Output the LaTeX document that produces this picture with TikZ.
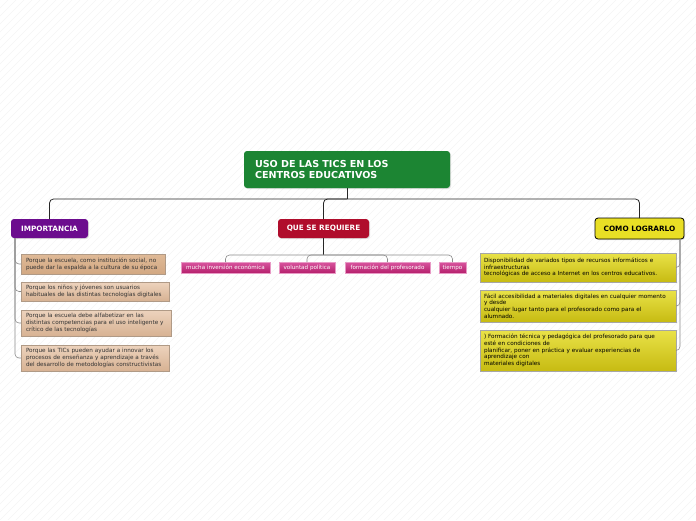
\documentclass[tikz,border=0pt]{standalone}
\usepackage{fontspec}
\setmainfont{DejaVu Sans}
\usetikzlibrary{positioning,shadows}
\definecolor{rootgreen}{HTML}{1C8533}
\definecolor{impviolet}{HTML}{6C0C8E}
\definecolor{reqred}{HTML}{B00D2C}
\definecolor{comoyellow}{HTML}{E9DF25}
\definecolor{tanTop}{HTML}{EDD3BD}
\definecolor{tanBot}{HTML}{D7B293}
\definecolor{tanBorder}{HTML}{B09A86}
\definecolor{pinkTop}{HTML}{D9559F}
\definecolor{pinkBot}{HTML}{B5206C}
\definecolor{yelTop}{HTML}{E9E248}
\definecolor{yelBot}{HTML}{C7BB12}
\begin{document}
\begin{tikzpicture}[
      x=1pt, y=-1pt,
      every node/.style={outer sep=0pt},
      shade/.style={drop shadow={opacity=0.25, shadow xshift=1pt, shadow yshift=-1pt}},
      maintopic/.style={fill=rootgreen, rounded corners=3pt, text=white, anchor=north west,
                        font=\fontsize{9.6}{11}\selectfont\bfseries, align=left,
                        inner xsep=11pt, inner ysep=0pt, shade},
      header/.style={rounded corners=3pt, text=white, anchor=north west, align=center,
                     font=\fontsize{7.3}{8}\selectfont\bfseries, inner sep=0pt, shade},
      reason/.style={draw=tanBorder, top color=tanTop, bottom color=tanBot, anchor=north west,
                     align=left, font=\fontsize{5.7}{7}\selectfont, text=black!80,
                     inner xsep=5pt, inner ysep=0pt, shade},
      need/.style={draw=pinkTop!60!white, top color=pinkTop, bottom color=pinkBot, anchor=north west,
                   align=center, font=\fontsize{5.6}{6}\selectfont, text=white,
                   inner sep=0pt, minimum height=11pt},
      howto/.style={draw=black!35, top color=yelTop, bottom color=yelBot, anchor=north west,
                    align=left, font=\fontsize{5.7}{6.6}\selectfont, text=black,
                    inner xsep=4pt, inner ysep=0pt, minimum width=194pt, text width=188pt, shade},
      link/.style={draw=black!85, line width=0.8pt, rounded corners=4pt},
      sublink/.style={draw=black!45, line width=0.6pt, rounded corners=4pt},
      hatch/.style={draw=black!7, line width=0.3pt},
    ]

    % background
    \useasboundingbox (0,0) rectangle (696,520);
    \begin{scope}
      \clip (0,0) rectangle (696,520);
      \fill[white] (0,0) rectangle (696,520);
      \foreach \i in {-520,-512,...,696}
        \draw[hatch] (\i,520) -- (\i+520,0);
    \end{scope}

    % central topic
    \node[maintopic, minimum width=206pt, minimum height=37pt, text width=184pt] (root) at (244,151)
      {USO DE LAS TICS EN LOS\\CENTROS EDUCATIVOS};

    % main branches
    \node[header, fill=impviolet, minimum width=77pt, minimum height=19pt] (imp) at (11,219) {IMPORTANCIA};
    \node[header, fill=reqred, minimum width=91pt, minimum height=19pt] (req) at (278,219) {QUE SE REQUIERE};
    \node[header, fill=comoyellow, draw=black, line width=0.8pt, text=black,
          minimum width=89pt, minimum height=21pt] (como) at (595,218) {COMO LOGRARLO};

    \coordinate (hub) at (root.south |- 0,199);
    \draw[link] (root.south) -- (hub);
    \draw[link] (hub) -| (imp.north);
    \draw[link] (hub) -| (req.north);
    \draw[link] (hub) -| (como.north);

    % importancia
    \node[reason, minimum width=141pt, minimum height=20pt, text width=134pt,
          top color=tanTop!70!brown, bottom color=tanBot!80!brown] (i1) at (21,254)
      {Porque la escuela, como institución social, no\\puede dar la espalda a la cultura de su época};
    \node[reason, minimum width=145pt, minimum height=19pt, text width=138pt] (i2) at (21,282)
      {Porque los niños y jóvenes son usuarios\\habituales de las distintas tecnologías digitales};
    \node[reason, minimum width=147pt, minimum height=26pt, text width=140pt] (i3) at (21,310)
      {Porque la escuela debe alfabetizar en las\\distintas competencias para el uso inteligente y\\crítico de las tecnologías};
    \node[reason, minimum width=145pt, minimum height=26pt, text width=138pt] (i4) at (21,345)
      {Porque las TICs pueden ayudar a innovar los\\procesos de enseñanza y aprendizaje a través\\del desarrollo de metodologías constructivistas};

    \coordinate (ispine) at (15,238);
    \foreach \c in {i1,i2,i3,i4}
      \draw[sublink] (ispine) |- (\c.west);

    % que se requiere
    \node[need, minimum width=89pt] (r1) at (181,262) {mucha inversión económica};
    \node[need, minimum width=56pt] (r2) at (279,262) {voluntad política};
    \node[need, minimum width=85pt] (r3) at (345,262) {formación del profesorado};
    \node[need, minimum width=27pt] (r4) at (439,262) {tiempo};

    \coordinate (rhub) at (req.south |- 0,255);
    \draw[link] (req.south) -- (rhub);
    \foreach \c in {r1,r2,r3,r4}
      \draw[sublink] (rhub) -| (\c.north);

    % como lograrlo
    \node[howto, minimum height=29pt] (c1) at (480,253)
      {Disponibilidad de variados tipos de recursos informáticos e\\infraestructuras\\tecnológicas de acceso a Internet en los centros educativos.};
    \node[howto, minimum height=32pt] (c2) at (480,290)
      {Fácil accesibilidad a materiales digitales en cualquier momento\\y desde\\cualquier lugar tanto para el profesorado como para el\\alumnado.};
    \node[howto, minimum height=41pt] (c3) at (480,330)
      {) Formación técnica y pedagógica del profesorado para que\\esté en condiciones de\\planificar, poner en práctica y evaluar experiencias de\\aprendizaje con\\materiales digitales};

    \coordinate (cspine) at (680,239);
    \foreach \c in {c1,c2,c3}
      \draw[sublink] (cspine) |- (\c.east);
  \end{tikzpicture}
\end{document}
